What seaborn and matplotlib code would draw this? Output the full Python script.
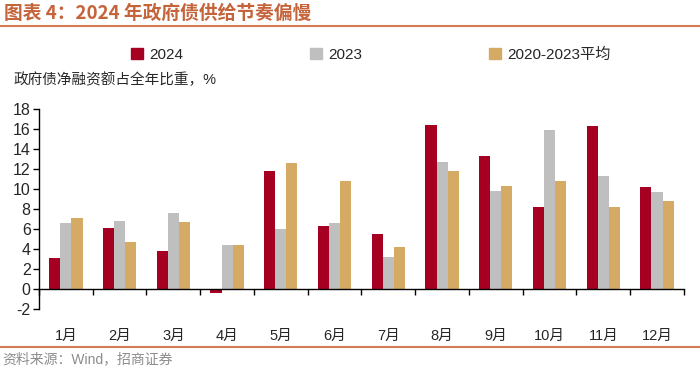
import pandas as pd
import matplotlib.pyplot as plt
import seaborn as sns

# data (% of full-year net financing)
months = ["1月", "2月", "3月", "4月", "5月", "6月", "7月", "8月", "9月", "10月", "11月", "12月"]
y2024 = [3.1, 6.1, 3.8, -0.4, 11.8, 6.3, 5.5, 16.4, 13.3, 8.2, 16.3, 10.2]
y2023 = [6.6, 6.8, 7.6, 4.4, 6.0, 6.6, 3.2, 12.7, 9.8, 15.9, 11.3, 9.7]
avg_2020_2023 = [7.1, 4.7, 6.7, 4.4, 12.6, 10.8, 4.2, 11.8, 10.3, 10.8, 8.2, 8.8]
series = ["2024", "2023", "2020-2023平均"]
colors = ["#A50021", "#BFBFBF", "#D4AA65"]

df = pd.DataFrame({"month": months * 3,
                   "value": y2024 + y2023 + avg_2020_2023,
                   "series": [s for s in series for _ in months]})

sns.set_style("white")
plt.rcParams["font.family"] = ["Liberation Sans", "Noto Sans CJK SC", "DejaVu Sans"]
plt.rcParams["axes.unicode_minus"] = False

fig = plt.figure(figsize=(7, 3.72), dpi=100)
ax = fig.add_axes([0.0557, 0.1694, 0.9213, 0.5376])

sns.barplot(data=df, x="month", y="value", hue="series", palette=colors,
            width=0.62, saturation=1, linewidth=0, ax=ax, legend=False)

ax.set_ylim(-2, 18)
ax.set_xlim(-0.5, len(months) - 0.5)
ax.set_yticks(range(-2, 19, 2))
ax.tick_params(axis="y", direction="out", length=4, width=1, color="black",
               labelsize=11.5, pad=2, left=True)

# x axis sits at zero, ticks at group borders, labels below the plot
ax.spines["bottom"].set_position(("data", 0))
ax.set_xticks([i - 0.5 for i in range(len(months) + 1)])
ax.set_xticklabels([])
ax.set_xticks(range(len(months)), minor=True)
ax.set_xticklabels(months, minor=True, fontsize=10.5)
ax.tick_params(axis="x", which="major", direction="out", length=4, width=1,
               color="black", bottom=True)
ax.tick_params(axis="x", which="minor", length=0, pad=29)
for s in ["top", "right"]:
    ax.spines[s].set_visible(False)
for s in ["left", "bottom"]:
    ax.spines[s].set_color("black")
    ax.spines[s].set_linewidth(1)
ax.set_xlabel("")
ax.set_ylabel("")

# legend
handles = [plt.Rectangle((0, 0), 1, 1, color=c) for c in colors]
fig.legend(handles, series, ncol=3, loc="center left", bbox_to_anchor=(0.176, 0.853),
           frameon=False, fontsize=11, handlelength=0.8, handleheight=0.8,
           handletextpad=0.4, columnspacing=8.3, borderpad=0)

fig.text(0.02, 0.787, "政府债净融资额占全年比重，%", fontsize=10.5, va="center")

# header and footer
fig.text(0.005, 0.965, "图表 4：2024 年政府债供给节奏偏慢", fontsize=13.5, fontweight="bold",
         color="#C5633A", va="center", family=["Noto Sans CJK SC", "DejaVu Sans"])
fig.add_artist(plt.Line2D([0, 1], [0.93, 0.93], color="#D27B55", lw=1.5))
fig.add_artist(plt.Line2D([0, 1], [0.067, 0.067], color="#D27B55", lw=1.5))
fig.text(0.003, 0.035, "资料来源：Wind，招商证券", fontsize=10, color="#8C8C8C", va="center")

fig.savefig("out.png", dpi=100)
